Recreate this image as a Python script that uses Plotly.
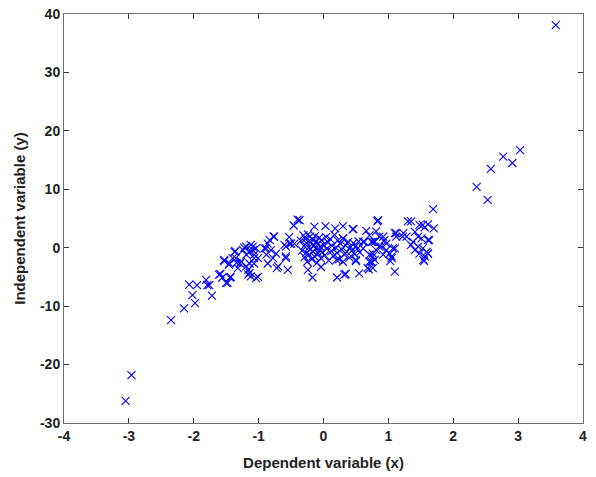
import plotly.graph_objects as go

# Sample observations: dependent variable (x) and independent variable (y)
x_vals = [
    # lower-left tail
    -3.05, -2.96, -2.35, -2.15, -1.98, -2.02, -2.07, -1.95, -1.81, -1.76, -1.72,
    -1.79, -1.61, -1.59, -1.56, -1.50, -1.48, -1.44, -1.43, -1.53, -1.46,
    # left cluster
    -1.36, -1.40, -1.34, -1.29, -1.32, -1.37, -1.35, -1.27, -1.45, -1.53,
    -1.22, -1.19, -1.16, -1.16, -1.04, -1.12, -1.09, -1.07, -1.14, -1.19,
    -1.09, -1.14, -1.07, -1.19, -1.14, -1.12, -1.07, -1.24, -1.04, -1.01, -1.01,
    -0.885, -0.83, -0.77, -0.81, -0.73, -0.78, -0.86, -0.72, -0.58, -0.55,
    -0.60, -0.53, -0.46, -0.37, -0.52, -0.45, -0.40, -0.50, -0.58, -0.76,
    -0.86, -0.91, -0.88, -0.70, -0.58,
    # central cluster
    -0.35, -0.33, -0.31, -0.30, -0.29, -0.28, -0.27, -0.26, -0.25, -0.24,
    -0.23, -0.22, -0.21, -0.20, -0.19, -0.18, -0.17, -0.16, -0.15, -0.14,
    -0.13, -0.12, -0.11, -0.10, -0.09, -0.08, -0.07, -0.06, -0.05, -0.04,
    -0.03, -0.02, 0.00, 0.02, 0.04, 0.05, 0.07, 0.08, 0.10, 0.12,
    0.13, 0.15, 0.17, 0.19, 0.21, 0.22, 0.24, 0.26, 0.28, 0.30,
    0.32, 0.34, 0.36, 0.38, 0.40, 0.42, 0.44, 0.46, 0.48, 0.50,
    0.52, 0.54, 0.56,
    -0.24, -0.17, -0.14, 0.03, 0.18, 0.30, 0.46, -0.04, 0.21, 0.34, 0.55,
    0.20, 0.30, 0.50, 0.32, 0.45, 0.30, 0.61,
    # right cluster
    0.83, 0.66, 0.71, 0.74, 0.70, 0.50, 0.79, 0.71, 0.68, 0.71,
    0.86, 0.94, 0.89, 0.97, 1.05, 1.10, 0.76, 0.81, 0.76, 0.63, 0.61,
    0.84, 0.81, 0.92, 1.10, 1.22, 1.12, 0.79, 0.86, 0.97, 0.76, 0.92,
    1.02, 1.07, 1.05, 0.74, 0.76, 1.10, 1.03, 1.30, 1.12, 1.23,
    1.69, 1.35, 1.53, 1.61, 1.70, 1.41, 1.28, 1.46, 1.38, 1.51, 1.61,
    1.35, 1.46, 1.41, 1.53, 1.48, 1.59, 1.56, 1.61, 1.55, 1.54, 1.61,
    1.63, 1.48, 1.56,
    # upper-right tail
    2.36, 2.53, 2.58, 2.77, 2.91, 3.03, 3.58,
]

y_vals = [
    # lower-left tail
    -26.2, -21.8, -12.4, -10.4, -9.5, -8.1, -6.3, -6.4, -5.5, -6.4, -8.2,
    -6.4, -4.6, -4.5, -5.1, -6.0, -6.0, -5.1, -5.0, -2.3, -2.9,
    # left cluster
    -0.6, -1.8, -2.6, -2.7, -3.5, -0.7, -1.8, -2.4, -2.7, -2.1,
    0.0, -1.2, -3.8, -4.6, -5.2, 0.5, -0.4, -1.8, -2.7, 0.2,
    0.2, -0.7, -1.2, -3.2, -4.3, -4.9, -2.7, -0.4, -0.1, -5.0, -1.8,
    -0.1, 1.3, 1.9, -0.4, -1.0, -1.8, -2.7, -3.5, -1.8, -3.8,
    0.5, 1.8, 3.8, 4.7, 0.7, 0.7, 4.8, 0.7, 0.2, 1.9,
    0.7, -0.1, -1.2, -3.2, -1.5,
    # central cluster
    1.2, -0.5, 2.1, 0.3, -1.6, 1.5, -0.9, 0.8, -2.4, 2.3,
    0.0, -1.2, 1.9, -0.3, 0.9, -2.0, 1.4, -0.7, 0.4, -1.5,
    2.0, -0.1, 1.1, -2.6, 0.6, -1.0, 1.7, -0.4, 0.2, -1.8,
    1.3, -0.8, 0.5, -1.3, 1.8, -0.2, 0.9, -2.2, 1.5, -0.6,
    0.3, -1.4, 2.2, 0.0, -0.9, 1.2, -2.0, 0.7, -0.3, 1.6,
    -1.2, 0.4, -0.7, 1.0, -1.7, 0.1, -0.5, 0.8, -1.1, 0.3,
    -0.2, 1.1, -0.8,
    -3.8, -5.1, 3.6, 3.7, 3.3, 3.7, 3.2, -3.3, -5.1, -4.5, -4.4,
    -2.1, -2.4, -2.3, -4.6, 3.2, 1.6, 1.0,
    # right cluster
    4.5, 2.9, 2.1, 1.0, -3.7, -2.1, -2.1, -1.2, -3.5, -2.4,
    1.9, 1.3, 0.2, -0.4, -1.5, -0.1, 1.0, -0.4, -1.5, 1.0, -0.1,
    4.7, 2.8, 1.9, 2.5, 1.9, 1.9, 1.0, 0.2, 0.7, -1.0, -1.2,
    -1.0, -0.1, -1.8, -2.4, -3.5, -4.1, -2.3, 4.5, 2.5, 2.5,
    6.6, 4.5, 3.9, 4.0, 3.3, 2.7, 1.9, 1.9, 1.0, 1.6, 1.3,
    0.5, 0.2, -0.4, -0.1, -1.0, -0.7, -1.5, -1.0, -2.3, -2.1, -1.0,
    1.3, 3.9, 3.5,
    # upper-right tail
    10.4, 8.2, 13.5, 15.6, 14.5, 16.7, 38.1,
]

x_ticks = [-4, -3, -2, -1, 0, 1, 2, 3, 4]
y_ticks = [-30, -20, -10, 0, 10, 20, 30, 40]

axis_color = "#6e6e6e"
font_family = "Liberation Sans, Arial, sans-serif"

fig = go.Figure(
    go.Scatter(
        x=x_vals,
        y=y_vals,
        mode="markers",
        marker=dict(symbol="x-thin", size=8, line=dict(color="#0000ff", width=1.1)),
        showlegend=False,
        hoverinfo="x+y",
    )
)

common_axis = dict(
    showgrid=False,
    zeroline=False,
    showline=True,
    linecolor=axis_color,
    linewidth=1,
    mirror="ticks",
    ticks="inside",
    ticklen=5,
    tickwidth=1,
    tickcolor="#333333",
    automargin=False,
    tickfont=dict(family=font_family, size=14, color="#222222", weight="bold"),
)

fig.update_xaxes(
    range=[-4, 4],
    tickvals=x_ticks,
    ticktext=[str(v) for v in x_ticks],
    title=dict(text="Dependent variable (x)", standoff=14,
               font=dict(family=font_family, size=15, color="#222222", weight="bold")),
    **common_axis,
)
fig.update_yaxes(
    range=[-30, 40],
    tickvals=y_ticks,
    ticktext=[str(v) for v in y_ticks],
    title=dict(text="Independent variable (y)", standoff=10,
               font=dict(family=font_family, size=15, color="#222222", weight="bold")),
    **common_axis,
)

fig.update_layout(
    width=596,
    height=477,
    margin=dict(l=64, r=13, t=14, b=54),
    plot_bgcolor="white",
    paper_bgcolor="white",
)

fig.write_html("out.html")
